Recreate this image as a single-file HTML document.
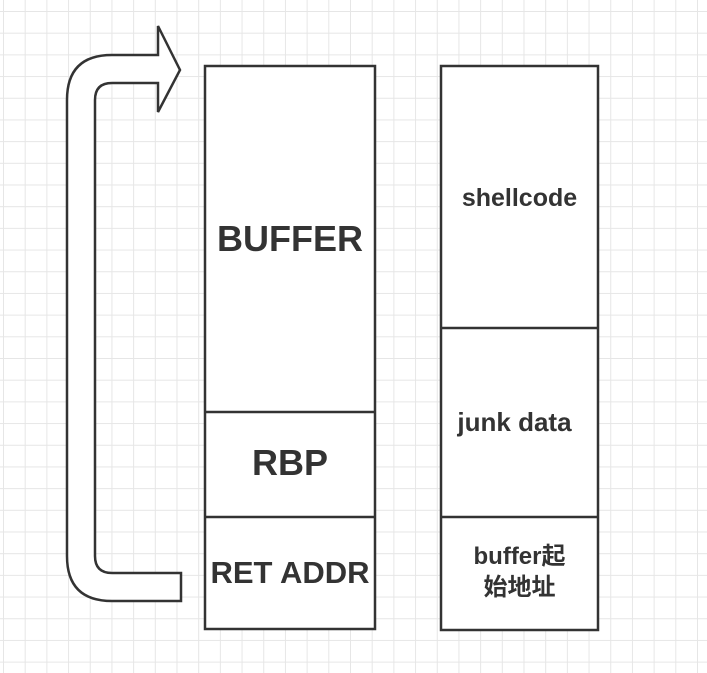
<!DOCTYPE html>
<html><head><meta charset="utf-8"><style>
html,body{margin:0;padding:0;background:#fff;}
body{width:707px;height:673px;overflow:hidden;position:relative;
background-image:linear-gradient(#e6e6e6 1px,transparent 1px),linear-gradient(90deg,#e6e6e6 1px,transparent 1px);
background-size:21.7px 21.7px;background-position:3px 11px;}
.t{position:absolute;font-family:"Liberation Sans","Noto Sans CJK SC",sans-serif;font-weight:bold;color:#333;text-align:center;}
</style></head><body>
<svg width="707" height="673" style="position:absolute;left:0;top:0">
<g fill="#fff" stroke="#333" stroke-width="2.5">
<rect x="205" y="66" width="170" height="563"/>
<line x1="205" y1="412" x2="375" y2="412"/>
<line x1="205" y1="517" x2="375" y2="517"/>
<rect x="441" y="66" width="157" height="564"/>
<line x1="441" y1="328" x2="598" y2="328"/>
<line x1="441" y1="517" x2="598" y2="517"/>
<path d="M181,601 L112,601 Q67,601 67,556 L67,100 Q67,55 112,55 L158,55 L158,26 L180,70 L158,112 L158,83 L112,83 Q95,83 95,100 L95,556 Q95,573 112,573 L181,573 Z" stroke-linejoin="miter"/>
</g>
</svg>
<div class="t" style="left:205px;width:170px;top:218px;font-size:36px">BUFFER</div>
<div class="t" style="left:205px;width:170px;top:442px;font-size:36px">RBP</div>
<div class="t" style="left:205px;width:170px;top:555px;font-size:31px">RET ADDR</div>
<div class="t" style="left:441px;width:157px;top:184px;font-size:25px">shellcode</div>
<div class="t" style="left:436px;width:157px;top:407px;font-size:26px">junk data</div>
<div class="t" style="left:441px;width:157px;top:541px;font-size:24px;line-height:31px">buffer起<br>始地址</div>
</body></html>
